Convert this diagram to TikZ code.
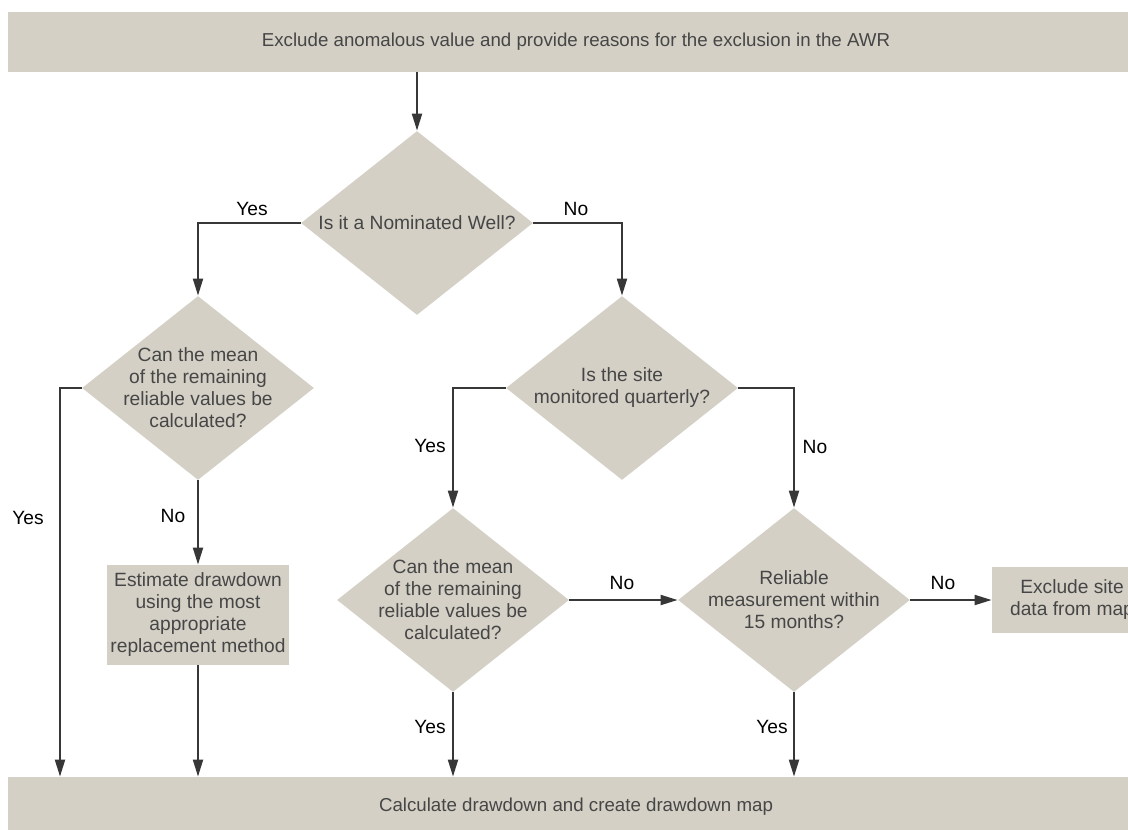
\documentclass[tikz,border=0pt]{standalone}
\usepackage{fontspec}
\setmainfont{Liberation Sans}
\usetikzlibrary{shapes.geometric,arrows.meta}
\definecolor{boxgrey}{RGB}{212,208,198}
\definecolor{inkgrey}{RGB}{70,70,70}
\definecolor{linegrey}{RGB}{55,55,55}
\begin{document}
\begin{tikzpicture}[x=0.5pt,y=-0.5pt,
	font=\fontsize{9.6}{11}\selectfont,
	bar/.style={rectangle,fill=boxgrey,text=inkgrey,font=\fontsize{9.35}{11}\selectfont,minimum width=568pt,minimum height=30pt},
	decision/.style={diamond,fill=boxgrey,minimum width=116pt,minimum height=92pt,inner sep=0pt},
	question/.style={text=inkgrey,align=center,inner sep=0pt},
	action/.style={rectangle,fill=boxgrey,text=inkgrey,align=center,inner sep=0pt},
	answer/.style={text=black,inner sep=0pt},
	flow/.style={draw=linegrey,line width=1pt,-{Triangle[length=8.5pt,width=5pt]}}]
	\useasboundingbox (0,0) rectangle (1128,829);
	\clip (0,0) rectangle (1128,829);

	\node[bar] (anomaly) at (576,42) {Exclude anomalous value and provide reasons for the exclusion in the AWR};
	\node[bar] (drawdown) at (576,807) {Calculate drawdown and create drawdown map};

	\node[decision] (nominated) at (417,223) {};
	\node[question] (nominatedq) at (nominated) {Is it a Nominated Well?};
	\node[decision] (meanleft) at (198,388) {};
	\node[question] (meanleftq) at (meanleft) {Can the mean\\of the remaining\\reliable values be\\calculated?};
	\node[decision] (quarterly) at (622,388) {};
	\node[question] (quarterlyq) at (quarterly) {Is the site\\monitored quarterly?};
	\node[decision] (meanright) at (453,600) {};
	\node[question] (meanrightq) at (meanright) {Can the mean\\of the remaining\\reliable values be\\calculated?};
	\node[decision] (reliable) at (794,600) {};
	\node[question] (reliableq) at (reliable) {Reliable\\measurement within\\15 months?};

	\node[action,minimum width=91pt,minimum height=50pt] (estimate) at (198,615) {Estimate drawdown\\using the most\\appropriate\\replacement method};
	\node[action,minimum width=80pt,minimum height=33pt] (dropsite) at (1072,600) {Exclude site\\data from map};
	\coordinate (leftrail) at (60,0);

	\draw[flow] (nominated.north |- anomaly.south) -- (nominated.north);
	\draw[flow] (nominated.west) -| (meanleft.north);
	\draw[flow] (nominated.east) -| (quarterly.north);
	\draw[flow] (meanleft.west) -| (leftrail |- drawdown.north);
	\draw[flow] (meanleft.south) -- (estimate.north);
	\draw[flow] (estimate.south) -- (estimate.south |- drawdown.north);
	\draw[flow] (quarterly.west) -| (meanright.north);
	\draw[flow] (quarterly.east) -| (reliable.north);
	\draw[flow] (meanright.east) -- (reliable.west);
	\draw[flow] (reliable.east) -- (dropsite.west);
	\draw[flow] (meanright.south) -- (meanright.south |- drawdown.north);
	\draw[flow] (reliable.south) -- (reliable.south |- drawdown.north);

	\node[answer] (yes1) at (252,209) {Yes};
	\node[answer] (no1) at (576,209) {No};
	\node[answer] (yes2) at (28,518) {Yes};
	\node[answer] (no2) at (173,516) {No};
	\node[answer] (yes3) at (430,446) {Yes};
	\node[answer] (no3) at (815,447) {No};
	\node[answer] (no4) at (622,583) {No};
	\node[answer] (no5) at (943,583) {No};
	\node[answer] (yes4) at (430,727) {Yes};
	\node[answer] (yes5) at (772,727) {Yes};
\end{tikzpicture}
\end{document}
